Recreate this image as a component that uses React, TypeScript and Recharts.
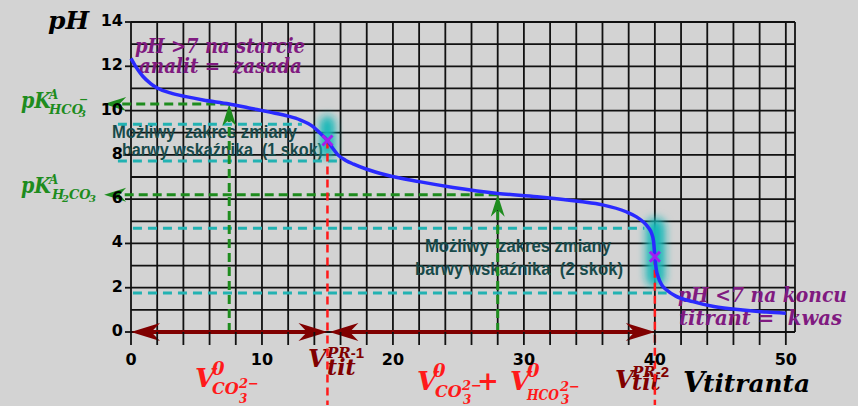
import React from "react";
import {
  ComposedChart,
  Line,
  Scatter,
  XAxis,
  YAxis,
  CartesianGrid,
  ReferenceLine,
  ReferenceArea,
  Customized,
} from "recharts";

// titrant volume and pH
const volume = [
  0, 0.4, 0.9, 1.5, 2, 3, 4.2, 5.5, 7.5, 9, 10.6, 12, 12.9, 13.9, 14.4, 15,
  15.4, 15.8, 16.4, 17, 18, 19.5, 22, 24.6, 28, 31, 34.3, 36, 37.8, 38.6, 39.1,
  39.5, 39.75, 39.9, 40, 40.1, 40.25, 40.5, 40.9, 41.6, 42.9, 44.5, 46.7, 48.5,
  50,
];
const ph = [
  12.36, 11.95, 11.55, 11.22, 11.02, 10.8, 10.63, 10.48, 10.3, 10.12, 9.93,
  9.75, 9.58, 9.27, 9.0, 8.65, 8.3, 8.0, 7.75, 7.58, 7.35, 7.09, 6.79, 6.53,
  6.26, 6.11, 5.89, 5.74, 5.43, 5.2, 4.98, 4.72, 4.46, 4.1, 3.4, 2.85, 2.5,
  2.15, 1.9, 1.62, 1.37, 1.15, 0.99, 0.9, 0.85,
];

// equivalence points
const equivVolume = [15, 40];
const equivPh = [8.65, 3.4];

// pKa levels and half-equivalence volumes
const pKaPh = [10.3, 6.2];
const halfVolume = [7.5, 28];

// indicator colour-change ranges (1st and 2nd jump)
const rangeTop = [9.38, 4.68];
const rangeBottom = [7.72, 1.76];

const xTicks = [
  0, 2, 4, 6, 8, 10, 12, 14, 16, 18, 20, 22, 24, 26, 28, 30, 32, 34, 36, 38,
  40, 42, 44, 46, 48, 50,
];
const xLabels = [0, 10, 20, 30, 40, 50];
const yTicks = [0, 1, 2, 3, 4, 5, 6, 7, 8, 9, 10, 11, 12, 13, 14];
const yLabels = [0, 2, 4, 6, 8, 10, 12, 14];

const curve = volume.map((v, i) => ({ v, ph: ph[i] }));
const equiv = equivVolume.map((v, i) => ({ v, ph: equivPh[i] }));

const SERIF = "'DejaVu Serif', serif";
const SANS = "'Liberation Sans', Arial, sans-serif";
const GREEN = "#1e8c1e";
const CYAN = "#22b2b2";
const RED = "#ff1a1a";
const DARKRED = "#800000";
const PURPLE = "#801a80";
const TEAL = "#184a4a";

type ArrowOpts = {
  color: string;
  width: number;
  dash?: string;
  head: number;
  half: number;
  start?: boolean;
  end?: boolean;
};

const arrowShape = (o: ArrowOpts) => (p: any) => {
  const { x1, y1, x2, y2 } = p;
  const dx = x2 - x1;
  const dy = y2 - y1;
  const len = Math.hypot(dx, dy) || 1;
  const ux = dx / len;
  const uy = dy / len;
  const nx = -uy;
  const ny = ux;
  const head = (tx: number, ty: number, sx: number, sy: number) => {
    const bx = tx - sx * o.head;
    const by = ty - sy * o.head;
    const mx = tx - sx * o.head * 0.7;
    const my = ty - sy * o.head * 0.7;
    return `${tx},${ty} ${bx + nx * o.half},${by + ny * o.half} ${mx},${my} ${
      bx - nx * o.half
    },${by - ny * o.half}`;
  };
  const ax = o.start ? x1 + ux * o.head * 0.6 : x1;
  const ay = o.start ? y1 + uy * o.head * 0.6 : y1;
  const bx = o.end ? x2 - ux * o.head * 0.6 : x2;
  const by = o.end ? y2 - uy * o.head * 0.6 : y2;
  return (
    <g>
      <line
        x1={ax}
        y1={ay}
        x2={bx}
        y2={by}
        stroke={o.color}
        strokeWidth={o.width}
        strokeDasharray={o.dash}
      />
      {o.start && <polygon points={head(x1, y1, -ux, -uy)} fill={o.color} />}
      {o.end && <polygon points={head(x2, y2, ux, uy)} fill={o.color} />}
    </g>
  );
};

const glowShape = (p: any) => {
  const { x, y, width, height } = p;
  return (
    <g>
      <defs>
        <filter id="glow" x="-60%" y="-60%" width="220%" height="220%">
          <feGaussianBlur stdDeviation="4" />
        </filter>
      </defs>
      <rect
        x={x + 3}
        y={y + 3}
        width={width - 6}
        height={height - 6}
        rx={width / 2 - 3}
        fill="#14b8b8"
        filter="url(#glow)"
      />
    </g>
  );
};

const Cross = (p: any) => {
  const { cx, cy } = p;
  const s = 5;
  return (
    <g stroke="#a020f0" strokeWidth={3}>
      <line x1={cx - s} y1={cy - s} x2={cx + s} y2={cy + s} />
      <line x1={cx - s} y1={cy + s} x2={cx + s} y2={cy - s} />
    </g>
  );
};

const XTick = (p: any) => {
  const { x, y, payload } = p;
  return (
    <g>
      <line x1={x} y1={y} x2={x} y2={y + 13} stroke="#111" strokeWidth={1.8} />
      {xLabels.includes(payload.value) && (
        <text
          x={x}
          y={y + 33}
          textAnchor="middle"
          fontFamily="'DejaVu Sans', sans-serif"
          fontWeight="bold"
          fontSize={16}
          fill="#000"
        >
          {payload.value}
        </text>
      )}
    </g>
  );
};

const YTick = (p: any) => {
  const { x, y, payload } = p;
  if (!yLabels.includes(payload.value)) return <g />;
  return (
    <g>
      <line x1={x - 6} y1={y} x2={x} y2={y} stroke="#111" strokeWidth={1.8} />
      <text
        x={x - 8}
        y={y + 4}
        textAnchor="end"
        fontFamily="'DejaVu Sans', sans-serif"
        fontWeight="bold"
        fontSize={16}
        fill="#000"
      >
        {payload.value}
      </text>
    </g>
  );
};

const T = (p: {
  x: number;
  y: number;
  size: number;
  fill: string;
  children: React.ReactNode;
  len?: number;
  family?: string;
  italic?: boolean;
}) => (
  <text
    x={p.x}
    y={p.y}
    fontSize={p.size}
    fill={p.fill}
    fontFamily={p.family ?? SERIF}
    fontWeight="bold"
    fontStyle={p.italic === false ? "normal" : "italic"}
    textLength={p.len}
    lengthAdjust={p.len ? "spacingAndGlyphs" : undefined}
    style={{ whiteSpace: "pre" }}
  >
    {p.children}
  </text>
);

// one text element holding several positioned pieces (sub/superscripts)
const Formula = (p: { fill: string; children: React.ReactNode }) => (
  <text
    fill={p.fill}
    fontFamily={SERIF}
    fontWeight="bold"
    fontStyle="italic"
    style={{ whiteSpace: "pre" }}
  >
    {p.children}
  </text>
);

const Annotations = () => (
  <g>
    <T x={48} y={29} size={25} fill="#000">
      pH
    </T>

    <T x={135} y={53} size={20} fill={PURPLE} len={170}>
      {"pH >7 na starcie"}
    </T>
    <T x={139} y={73} size={20} fill={PURPLE} len={163}>
      {"analit =  zasada"}
    </T>
    <T x={678} y={302} size={20} fill={PURPLE} len={169}>
      {"pH <7 na koncu"}
    </T>
    <T x={679} y={325} size={20} fill={PURPLE} len={163}>
      {"titrant =  kwas"}
    </T>

    <T x={112} y={138} size={18} fill={TEAL} len={185} family={SANS} italic={false}>
      {"Możliwy  zakres zmiany"}
    </T>
    <T x={122} y={156} size={18} fill={TEAL} len={201} family={SANS} italic={false}>
      {"barwy wskaźnika  (1 skok)"}
    </T>
    <T x={425} y={252} size={18} fill={TEAL} len={186} family={SANS} italic={false}>
      {"Możliwy  zakres zmiany"}
    </T>
    <T x={415} y={275} size={18} fill={TEAL} len={208} family={SANS} italic={false}>
      {"barwy wskaźnika  (2 skok)"}
    </T>

    {/* pKa labels */}
    <Formula fill={GREEN}>
      <tspan x={21} y={108} fontSize={22} textLength={30} lengthAdjust="spacingAndGlyphs">
        pK
      </tspan>
      <tspan x={49} y={99} fontSize={12}>
        A
      </tspan>
      <tspan x={49} y={114} fontSize={13}>
        HCO
      </tspan>
      <tspan x={79} y={103} fontSize={11}>
        −
      </tspan>
      <tspan x={79} y={117} fontSize={10}>
        3
      </tspan>
    </Formula>
    <Formula fill={GREEN}>
      <tspan x={21} y={193} fontSize={22} textLength={30} lengthAdjust="spacingAndGlyphs">
        pK
      </tspan>
      <tspan x={49} y={184} fontSize={12}>
        A
      </tspan>
      <tspan x={52} y={199} fontSize={13}>
        H
      </tspan>
      <tspan x={62} y={202} fontSize={10}>
        2
      </tspan>
      <tspan x={69} y={199} fontSize={13}>
        CO
      </tspan>
      <tspan x={89} y={202} fontSize={10}>
        3
      </tspan>
    </Formula>

    {/* V0 CO3 2- */}
    <Formula fill={RED}>
      <tspan x={195} y={387} fontSize={26}>
        V
      </tspan>
      <tspan x={212} y={375} fontSize={18}>
        0
      </tspan>
      <tspan x={212} y={394} fontSize={16}>
        CO
      </tspan>
      <tspan x={239} y={388} fontSize={13}>
        2−
      </tspan>
      <tspan x={239} y={403} fontSize={12}>
        3
      </tspan>
    </Formula>

    {/* V tit PR-1 */}
    <Formula fill={DARKRED}>
      <tspan x={308} y={367} fontSize={24}>
        V
      </tspan>
      <tspan x={327} y={358} fontSize={15}>
        PR
      </tspan>
      <tspan fontSize={15} fontFamily={SANS} fontStyle="normal">
        -1
      </tspan>
      <tspan x={327} y={375} fontSize={22}>
        tit
      </tspan>
    </Formula>

    {/* V0 CO3 + V0 HCO3 */}
    <Formula fill={RED}>
      <tspan x={417} y={390} fontSize={26}>
        V
      </tspan>
      <tspan x={433} y={377} fontSize={18}>
        0
      </tspan>
      <tspan x={435} y={397} fontSize={16}>
        CO
      </tspan>
      <tspan x={462} y={390} fontSize={13}>
        2−
      </tspan>
      <tspan x={463} y={404} fontSize={12}>
        3
      </tspan>
      <tspan x={477} y={390} fontSize={26} fontStyle="normal">
        +
      </tspan>
      <tspan x={510} y={390} fontSize={26}>
        V
      </tspan>
      <tspan x={527} y={377} fontSize={18}>
        0
      </tspan>
      <tspan x={527} y={400} fontSize={15} textLength={32} lengthAdjust="spacingAndGlyphs">
        HCO
      </tspan>
      <tspan x={560} y={391} fontSize={13}>
        2−
      </tspan>
      <tspan x={561} y={404} fontSize={12}>
        3
      </tspan>
    </Formula>

    {/* V tit PR-2 */}
    <Formula fill={DARKRED}>
      <tspan x={615} y={388} fontSize={24}>
        V
      </tspan>
      <tspan x={632} y={377} fontSize={15}>
        PR
      </tspan>
      <tspan fontSize={15} fontFamily={SANS} fontStyle="normal">
        -2
      </tspan>
      <tspan x={632} y={390} fontSize={22}>
        tit
      </tspan>
    </Formula>

    <Formula fill="#000">
      <tspan x={683} y={392} fontSize={28}>
        V
      </tspan>
      <tspan x={703} y={392} fontSize={25} textLength={107} lengthAdjust="spacingAndGlyphs">
        titranta
      </tspan>
    </Formula>
  </g>
);

const greenArrow = arrowShape({ color: GREEN, width: 3, dash: "9 5", head: 22, half: 7, end: true });
const redArrow = arrowShape({ color: DARKRED, width: 4, head: 29, half: 9, start: true, end: true });

export default function App() {
  return (
    <div
      style={{
        position: "absolute",
        left: 0,
        top: 0,
        width: 858,
        height: 406,
        background: "#d3d3d3",
        overflow: "hidden",
      }}
    >
      <ComposedChart
        width={858}
        height={406}
        data={curve}
        margin={{ top: 22, right: 63, left: 0, bottom: 0 }}
      >
        <CartesianGrid stroke="#111" strokeWidth={1.8} />

        <ReferenceArea x1={14.2} x2={15.8} y1={7.7} y2={9.9} shape={glowShape} ifOverflow="visible" />
        <ReferenceArea x1={39.1} x2={41} y1={1.9} y2={5.3} shape={glowShape} ifOverflow="visible" />

        {/* indicator ranges */}
        <ReferenceLine
          segment={[{ x: -1, y: rangeTop[0] }, { x: 13.05, y: rangeTop[0] }]}
          stroke={CYAN}
          strokeWidth={3}
          strokeDasharray="9 6"
          ifOverflow="visible"
        />
        <ReferenceLine
          segment={[{ x: -1, y: rangeBottom[0] }, { x: 15.95, y: rangeBottom[0] }]}
          stroke={CYAN}
          strokeWidth={3}
          strokeDasharray="9 6"
          ifOverflow="visible"
        />
        <ReferenceLine
          segment={[{ x: 0.15, y: rangeTop[1] }, { x: 39.2, y: rangeTop[1] }]}
          stroke={CYAN}
          strokeWidth={3}
          strokeDasharray="9 6"
          ifOverflow="visible"
        />
        <ReferenceLine
          segment={[{ x: 0.15, y: rangeBottom[1] }, { x: 40.9, y: rangeBottom[1] }]}
          stroke={CYAN}
          strokeWidth={3}
          strokeDasharray="9 6"
          ifOverflow="visible"
        />

        {/* pKa guides */}
        {pKaPh.map((p, i) => (
          <ReferenceLine
            key={`h${i}`}
            segment={[{ x: halfVolume[i], y: p }, { x: -2.05, y: p }]}
            shape={greenArrow}
            ifOverflow="visible"
          />
        ))}
        {pKaPh.map((p, i) => (
          <ReferenceLine
            key={`v${i}`}
            segment={[{ x: halfVolume[i], y: 0 }, { x: halfVolume[i], y: p }]}
            shape={greenArrow}
            ifOverflow="visible"
          />
        ))}

        {/* equivalence volumes */}
        {equivVolume.map((v, i) => (
          <ReferenceLine
            key={`e${i}`}
            segment={[{ x: v, y: equivPh[i] }, { x: v, y: -3.3 }]}
            stroke={RED}
            strokeWidth={2.5}
            strokeDasharray="8 5"
            ifOverflow="visible"
          />
        ))}

        <ReferenceLine
          segment={[{ x: 0, y: 0 }, { x: equivVolume[0], y: 0 }]}
          shape={redArrow}
          ifOverflow="visible"
        />
        <ReferenceLine
          segment={[{ x: equivVolume[0] + 0.15, y: 0 }, { x: equivVolume[1], y: 0 }]}
          shape={redArrow}
          ifOverflow="visible"
        />

        <Line
          type="monotone"
          dataKey="ph"
          stroke="#2a2aff"
          strokeWidth={3.5}
          dot={false}
          isAnimationActive={false}
        />
        <Scatter data={equiv} dataKey="ph" shape={Cross} isAnimationActive={false} />

        <XAxis
          dataKey="v"
          type="number"
          domain={[0, 50.7]}
          ticks={xTicks}
          height={74}
          axisLine={false}
          tickLine={false}
          tickSize={0}
          tickMargin={0}
          tick={XTick}
          interval={0}
        />
        <YAxis
          type="number"
          domain={[0, 14]}
          ticks={yTicks}
          width={131}
          axisLine={false}
          tickLine={false}
          tickSize={0}
          tickMargin={0}
          tick={YTick}
          interval={0}
        />

        <Customized component={Annotations} />
      </ComposedChart>
    </div>
  );
}
